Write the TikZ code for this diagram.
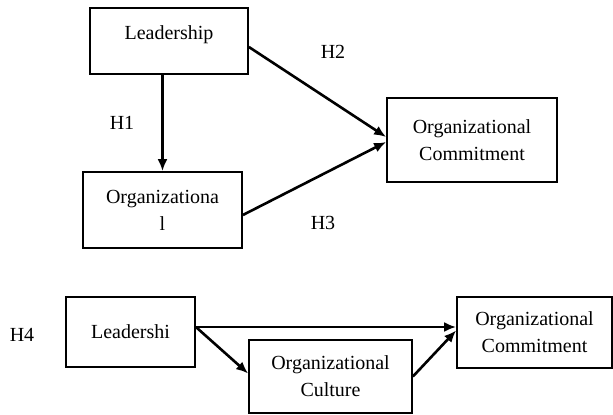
\documentclass[tikz,border=0pt]{standalone}
\usepackage{fontspec}
\setmainfont{Liberation Serif}
\usepackage{tikz}
\usetikzlibrary{arrows.meta}
\newlength{\px}
\setlength{\px}{0.5pt}

\tikzset{
	box/.style={draw, line width=0.9pt, rectangle, align=center, inner sep=0pt},
	path/.style={line width=1.3pt, -{Latex[length=6pt,width=5pt]}},
	hyp/.style={inner sep=0pt}
}

\begin{document}
\begin{tikzpicture}[x=\px, y=-\px, font=\fontsize{10}{13.5}\selectfont]
	\useasboundingbox (0,0) rectangle (613,415);

	% upper model
	\node[box, minimum width=158\px, minimum height=66\px] (lead) at (169,41) {Leadership\\[-5.5pt]\mbox{}};
	\node[box, minimum width=159\px, minimum height=76\px] (cult) at (162.5,210) {Organizationa\\l};
	\node[box, minimum width=170\px, minimum height=84\px] (comm) at (472,140) {Organizational\\Commitment};

	\draw[path] (lead.south -| cult.north) -- (cult.north);
	\draw[path] ([yshift=-3pt]lead.east) -- ([yshift=1.5pt]comm.west);
	\draw[path] ([yshift=-2.5pt]cult.east) -- ([yshift=-1pt]comm.west);

	\node[hyp] (h1) at (122,123) {H1};
	\node[hyp] (h2) at (333,52) {H2};
	\node[hyp] (h3) at (323,223) {H3};

	% mediation model
	\node[hyp] (h4) at (22,335) {H4};
	\node[box, minimum width=129\px, minimum height=70\px] (leadB) at (130.5,332) {Leadershi};
	\node[box, minimum width=163\px, minimum height=73\px] (cultB) at (330.5,376.5) {Organizational\\Culture};
	\node[box, minimum width=155\px, minimum height=71\px] (commB) at (534.5,332.5) {Organizational\\Commitment};

	\draw[path] ([yshift=2.5pt]leadB.east) -- ([yshift=2.75pt]commB.west);
	\draw[path] ([yshift=2.5pt]leadB.east) -- ([yshift=1.5pt]cultB.west);
	\draw[path] (cultB.east) -- ([yshift=1pt]commB.west);
\end{tikzpicture}
\end{document}
